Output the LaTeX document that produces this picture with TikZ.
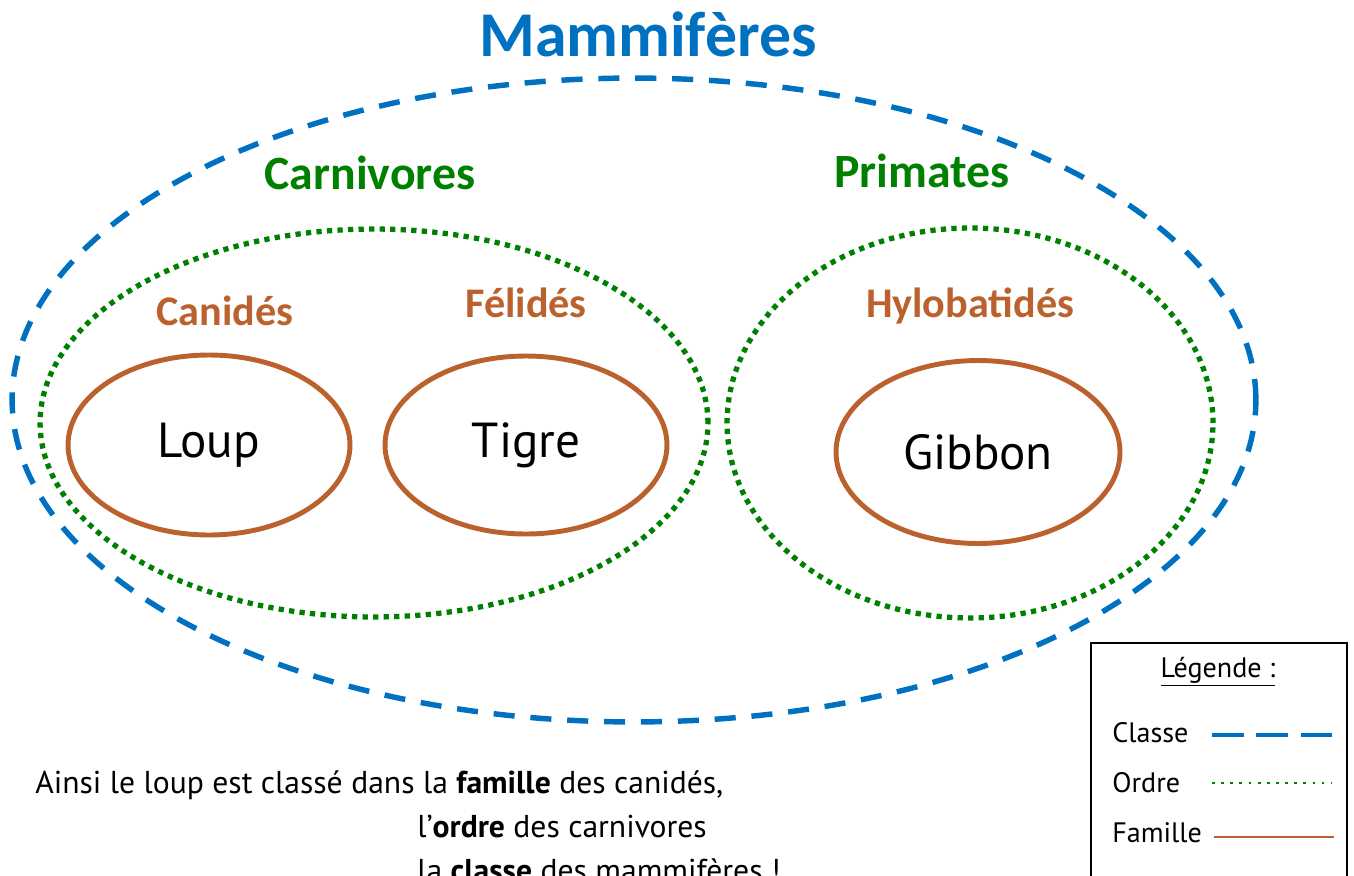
\documentclass[tikz,border=0pt]{standalone}
\usepackage{fontspec}
\setmainfont{Carlito}
\newfontfamily\comicfont{PT Sans}
\usetikzlibrary{positioning,shapes.geometric}
\definecolor{classblue}{HTML}{0070C0}
\definecolor{ordergreen}{HTML}{008000}
\definecolor{famillebrown}{RGB}{186,97,45}
\tikzset{
  classe/.style={
    draw=classblue,
    ellipse,
    line width=3.1pt,
    dash pattern=on 12pt off 9pt
  },
  ordre/.style={
    draw=ordergreen,
    ellipse,
    line width=3pt,
    dash pattern=on 3pt off 3pt
  },
  famille/.style={
    draw=famillebrown,
    ellipse,
    line width=2.8pt,
    font=\comicfont\fontsize{28}{32}\selectfont
  },
  titre/.style={text=classblue, anchor=base, font=\bfseries\fontsize{36.3}{40}\selectfont},
  nomordre/.style={text=ordergreen, anchor=base, font=\bfseries\fontsize{27.2}{30}\selectfont},
  nomfamille/.style={text=famillebrown, anchor=base, font=\bfseries\fontsize{24}{28}\selectfont},
  legende/.style={draw, line width=1.1pt},
  legtext/.style={anchor=base west, inner sep=0pt, font=\comicfont\fontsize{16}{19}\selectfont},
  phrase/.style={anchor=base west, inner sep=0pt, font=\comicfont\fontsize{18}{21}\selectfont}
}

\begin{document}
\begin{tikzpicture}[x=0.02cm, y=-0.02cm]
\useasboundingbox (0,0) rectangle (1354,875);

% Classe
\node[classe, minimum width=24.88cm, minimum height=12.88cm] (mammiferes) at (634,400) {};
\node[titre] (titreclasse) at (648,57) {Mammifères};

% Ordres
\node[ordre, minimum width=13.36cm, minimum height=7.76cm] (carnivores) at (374,423) {};
\node[ordre, minimum width=9.72cm, minimum height=7.8cm] (primates) at (970,423) {};
\node[nomordre] (titrecarnivores) at (370,189) {Carnivores};
\node[nomordre] (titreprimates) at (922,187) {Primates};

% Familles
\node[famille, minimum width=5.64cm, minimum height=3.6cm] (loup) at (209,445) {Loup};
\node[famille, minimum width=5.64cm, minimum height=3.56cm] (tigre) at (526,445) {Tigre};
\node[famille, minimum width=5.68cm, minimum height=3.66cm] (gibbon) at (978,452) {Gibbon};
\node[nomfamille] (titrecanides) at (225,325) {Canidés};
\node[nomfamille] (titrefelides) at (526,317) {Félidés};
\node[nomfamille] (titrehylobatides) at (970,317) {Hylobatidés};

% Phrase
\node[phrase] (phrase1) at (35,793) {Ainsi le loup est classé dans la \textbf{famille} des canidés,};
\node[phrase] (phrase2) at (417,837) {l’\textbf{ordre} des carnivores};
\node[phrase] (phrase3) at (417,881) {la \textbf{classe} des mammifères !};

% Legende
\draw[legende] (1091,643) rectangle (1347,900);
\node[legtext, anchor=base] (titrelegende) at (1218,677) {\underline{Légende :}};
\node[legtext] (legclasse) at (1112,742) {Classe};
\node[legtext] (legordre) at (1112,792) {Ordre};
\node[legtext] (legfamille) at (1112,842) {Famille};
\coordinate (c1) at (1212,735);
\coordinate (c2) at (1332,735);
\coordinate (o1) at (1212,783);
\coordinate (o2) at (1332,783);
\coordinate (f1) at (1214,837);
\coordinate (f2) at (1334,837);
\draw[classblue, line width=2.3pt, dash pattern=on 18.1pt off 7.2pt] (c1) -- (c2);
\draw[ordergreen, line width=1.6pt, dash pattern=on 1.6pt off 3.6pt] (o1) -- (o2);
\draw[famillebrown, line width=1.5pt] (f1) -- (f2);

\end{tikzpicture}
\end{document}
